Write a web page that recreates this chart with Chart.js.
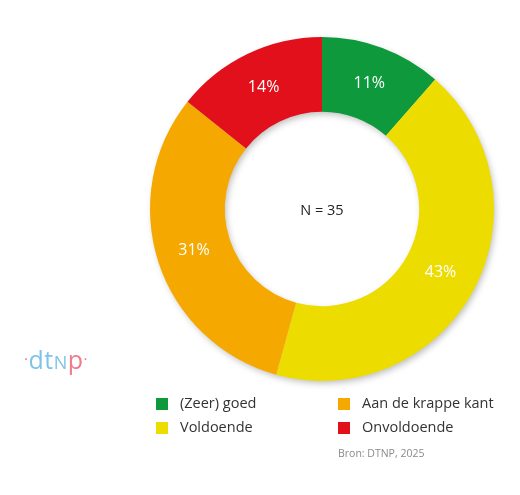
<!DOCTYPE html>
<html>
<head>
<meta charset="utf-8">
<script src="https://cdn.jsdelivr.net/npm/chart.js@4.4.1/dist/chart.umd.min.js"></script>
<style>
  html, body { margin:0; padding:0; background:#fff; }
  #wrap { position:relative; width:520px; height:495px; overflow:hidden; font-family:"Open Sans", sans-serif; }
  #c { position:absolute; left:0; top:0; }
  .leg { position:absolute; font-size:14.5px; color:#333; line-height:18px; white-space:nowrap; }
  .sw { position:absolute; width:12px; height:12px; }
  #src { position:absolute; left:338px; top:446px; font-size:10.5px; color:#8a8a8a; }
  #logo { position:absolute; left:24px; top:342px; font-size:25px; letter-spacing:0.5px; font-family:"Open Sans", sans-serif; }
</style>
</head>
<body>
<div id="wrap">
  <canvas id="c" width="520" height="495"></canvas>
  <div id="legend"></div>
  <div id="src">Bron: DTNP, 2025</div>
  <div id="logo"><span style="color:#f07b8c;font-size:15px;vertical-align:5px">·</span><span style="color:#7fc3e6">dt</span><span style="color:#7fc3e6;font-size:18px">N</span><span style="color:#f07b8c">p</span><span style="color:#f07b8c;font-size:15px;vertical-align:5px">·</span></div>
</div>
<script>
const categories = ["(Zeer) goed", "Voldoende", "Aan de krappe kant", "Onvoldoende"];
const counts = [4, 15, 11, 5];
const percentLabels = ["11%", "43%", "31%", "14%"];
const colors = ["#0e9a3c", "#ecdc00", "#f5a800", "#e2101b"];
const centerText = "N = 35";

// legend layout: two columns
const legendOrder = [
  {i:0, x:156, y:398},
  {i:2, x:338, y:398},
  {i:1, x:156, y:422},
  {i:3, x:338, y:422}
];
const legendEl = document.getElementById('legend');
legendOrder.forEach(o => {
  const sw = document.createElement('div');
  sw.className = 'sw';
  sw.style.left = o.x + 'px';
  sw.style.top = o.y + 'px';
  sw.style.background = colors[o.i];
  legendEl.appendChild(sw);
  const t = document.createElement('div');
  t.className = 'leg';
  t.style.left = (o.x + 24) + 'px';
  t.style.top = (o.y - 4) + 'px';
  t.textContent = categories[o.i];
  legendEl.appendChild(t);
});

const shadowPlugin = {
  id: 'ringShadow',
  beforeDatasetsDraw(chart) {
    const meta = chart.getDatasetMeta(0);
    const arc = meta.data[0];
    if (!arc) return;
    const {x, y, outerRadius, innerRadius} = arc.getProps(['x','y','outerRadius','innerRadius'], true);
    const ctx = chart.ctx;
    ctx.save();
    ctx.shadowColor = 'rgba(0,0,0,0.28)';
    ctx.shadowBlur = 7;
    ctx.shadowOffsetX = 2;
    ctx.shadowOffsetY = 3;
    ctx.beginPath();
    ctx.arc(x, y, outerRadius - 1, 0, Math.PI * 2);
    ctx.arc(x, y, innerRadius + 1, 0, Math.PI * 2, true);
    ctx.closePath();
    ctx.fillStyle = '#ddd';
    ctx.fill();
    ctx.restore();
  }
};

const labelPlugin = {
  id: 'sliceLabels',
  afterDatasetsDraw(chart) {
    const ctx = chart.ctx;
    const meta = chart.getDatasetMeta(0);
    ctx.save();
    ctx.textAlign = 'center';
    ctx.textBaseline = 'middle';
    ctx.font = '16px "Open Sans", sans-serif';
    ctx.fillStyle = '#ffffff';
    meta.data.forEach((arc, i) => {
      const p = arc.tooltipPosition();
      ctx.fillText(percentLabels[i], p.x, p.y);
    });
    const a0 = meta.data[0];
    ctx.fillStyle = '#222';
    ctx.font = '14.5px "Open Sans", sans-serif';
    ctx.fillText(centerText, a0.x, a0.y + 2);
    ctx.restore();
  }
};

new Chart(document.getElementById('c'), {
  type: 'doughnut',
  data: {
    labels: categories,
    datasets: [{
      data: counts,
      backgroundColor: colors,
      borderWidth: 0,
      hoverOffset: 0
    }]
  },
  options: {
    responsive: false,
    animation: false,
    cutout: '56.5%',
    layout: { padding: { left: 150, right: 26, top: 37, bottom: 114 } },
    plugins: {
      legend: { display: false },
      tooltip: { enabled: false }
    }
  },
  plugins: [shadowPlugin, labelPlugin]
});
</script>
</body>
</html>
